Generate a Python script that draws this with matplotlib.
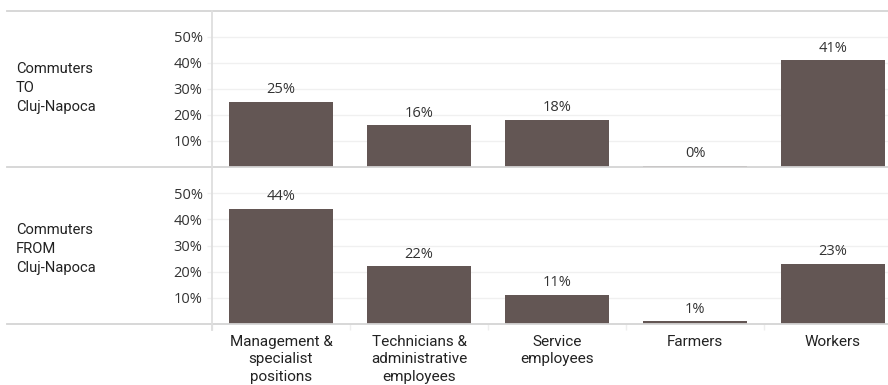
import matplotlib
matplotlib.use("Agg")
import matplotlib.pyplot as plt
from matplotlib.lines import Line2D

# Occupational categories and shares (%) of commuters
categories = ["Management &\nspecialist\npositions",
              "Technicians &\nadministrative\nemployees",
              "Service\nemployees",
              "Farmers",
              "Workers"]
to_cluj = [25, 16, 18, 0.4, 41]
from_cluj = [44, 22, 11, 1, 23]
row_labels = ["Commuters\nTO\nCluj-Napoca", "Commuters\nFROM\nCluj-Napoca"]
y_ticks = [10, 20, 30, 40, 50]

BAR = "#635654"
TXT = "#333333"
W, H = 888, 385

fig = plt.figure(figsize=(W / 100, H / 100), dpi=100)
fig.patch.set_facecolor("white")


def px_axes(x0, y0, x1, y1):
    return fig.add_axes([x0 / W, 1 - y1 / H, (x1 - x0) / W, (y1 - y0) / H])


# (top px, bottom px, values, row label, label centre px)
panels = [(11, 167, to_cluj, row_labels[0], 88),
          (167, 324, from_cluj, row_labels[1], 249)]
axes = []
for top, bottom, vals, lab, yc in panels:
    ax = px_axes(212, top, 902, bottom)
    axes.append(ax)
    x = list(range(len(categories)))
    ax.bar(x, vals, width=0.755, color=BAR, zorder=3)
    ax.set_xlim(-0.5, len(categories) - 0.5)
    ax.set_ylim(0, 60)
    ax.set_yticks(y_ticks)
    ax.set_yticklabels([f"{t}%" for t in y_ticks], fontsize=10.5,
                       color=TXT, family="Open Sans")
    ax.tick_params(axis="y", length=3.6, width=1, color="#f0f0f0", pad=3.2)
    ax.grid(axis="y", color="#f0f0f0", linewidth=1, zorder=0)
    for s in ax.spines.values():
        s.set_visible(False)
    for xi, v in zip(x, vals):
        ax.annotate(f"{v:.0f}%", (xi, v), xytext=(0, 3.5), textcoords="offset points",
                    ha="center", va="bottom", fontsize=10.5, color=TXT,
                    family="Open Sans")
    ax.set_xticks(x)
    ax.set_xticks([i + 0.5 for i in range(-1, len(categories))], minor=True)
    ax.tick_params(axis="x", which="major", length=0)
    ax.tick_params(axis="x", which="minor", length=0)
    ax.set_xticklabels([])
    fig.text(16 / W, 1 - yc / H, lab, ha="left", va="center",
             fontsize=10.6, color="#222222", family="Roboto", linespacing=1.45)

axes[1].set_xticklabels(categories, fontsize=11, color="#222222",
                        family="Roboto", linespacing=1.3)
axes[1].tick_params(axis="x", which="major", pad=8)
axes[1].tick_params(axis="x", which="minor", length=4.5, width=1,
                    color="#eeeeee", direction="out")

# Frame lines between the rows
for y in (11, 167, 324):
    fig.add_artist(Line2D([7 / W, 1], [1 - y / H, 1 - y / H], color="#d4d4d4",
                          linewidth=1.3, zorder=5))
fig.add_artist(Line2D([212 / W, 212 / W], [1 - 11 / H, 1 - 330 / H],
                      color="#dedede", linewidth=1.3, zorder=5))

fig.savefig("out.png", dpi=100, facecolor="white")
